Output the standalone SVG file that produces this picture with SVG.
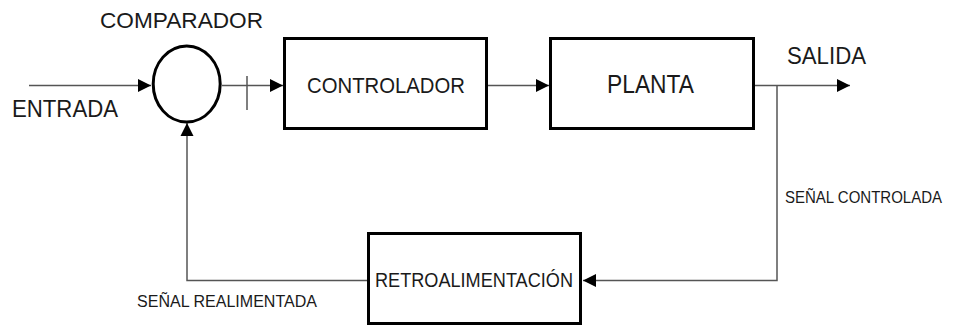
<svg xmlns="http://www.w3.org/2000/svg" width="953" height="326" viewBox="0 0 953 326">
<defs>
<style>
.box{fill:#fff;stroke:#000;stroke-width:3}
.wire{fill:none;stroke:#555;stroke-width:1.5}
.t{font-family:"Liberation Sans",Arial,sans-serif;fill:#1a1a1a}
</style>
<marker id="ah" markerUnits="userSpaceOnUse" markerWidth="14" markerHeight="14" refX="13" refY="7" orient="auto">
<path d="M0,0.5 L13,7 L0,13.5 Z" fill="#000"/>
</marker>
</defs>
<rect width="953" height="326" fill="#fff"/>
<g id="connectors">
<line class="wire" x1="29" y1="85.5" x2="151" y2="85.5" marker-end="url(#ah)"/>
<line class="wire" x1="222" y1="85.5" x2="283" y2="85.5" marker-end="url(#ah)"/>
<line class="wire" x1="247" y1="76" x2="247" y2="110" stroke="#777"/>
<line class="wire" x1="487" y1="85.5" x2="549" y2="85.5" marker-end="url(#ah)"/>
<line class="wire" x1="754" y1="85.5" x2="850" y2="85.5" marker-end="url(#ah)"/>
<polyline class="wire" points="777,85.5 777,280.5 583,280.5" marker-end="url(#ah)"/>
<polyline class="wire" points="368,280.5 187,280.5 187,123" marker-end="url(#ah)"/>
</g>
<g id="comparador">
<ellipse cx="186.7" cy="84" rx="33.5" ry="38" fill="#fff" stroke="#000" stroke-width="3"/>
<text class="t" x="100" y="28" font-size="22.5" textLength="163" lengthAdjust="spacingAndGlyphs">COMPARADOR</text>
</g>
<g id="entrada">
<text class="t" x="12" y="117" font-size="23" textLength="106" lengthAdjust="spacingAndGlyphs">ENTRADA</text>
</g>
<g id="controlador">
<rect class="box" x="284.5" y="38.5" width="202" height="90"/>
<text class="t" x="307" y="93" font-size="22" textLength="158" lengthAdjust="spacingAndGlyphs">CONTROLADOR</text>
</g>
<g id="planta">
<rect class="box" x="550.5" y="38.5" width="203" height="90"/>
<text class="t" x="607" y="93" font-size="25" textLength="87" lengthAdjust="spacingAndGlyphs">PLANTA</text>
</g>
<g id="salida">
<text class="t" x="787" y="64" font-size="23" textLength="79" lengthAdjust="spacingAndGlyphs">SALIDA</text>
</g>
<g id="senal-controlada">
<text class="t" x="785" y="203" font-size="16.5" textLength="157" lengthAdjust="spacingAndGlyphs">SEÑAL CONTROLADA</text>
</g>
<g id="retroalimentacion">
<rect class="box" x="368.5" y="233.5" width="212" height="90"/>
<text class="t" x="375" y="287" font-size="20.5" textLength="198" lengthAdjust="spacingAndGlyphs">RETROALIMENTACIÓN</text>
</g>
<g id="senal-realimentada">
<text class="t" x="137" y="307" font-size="16" textLength="180" lengthAdjust="spacingAndGlyphs">SEÑAL REALIMENTADA</text>
</g>
</svg>
